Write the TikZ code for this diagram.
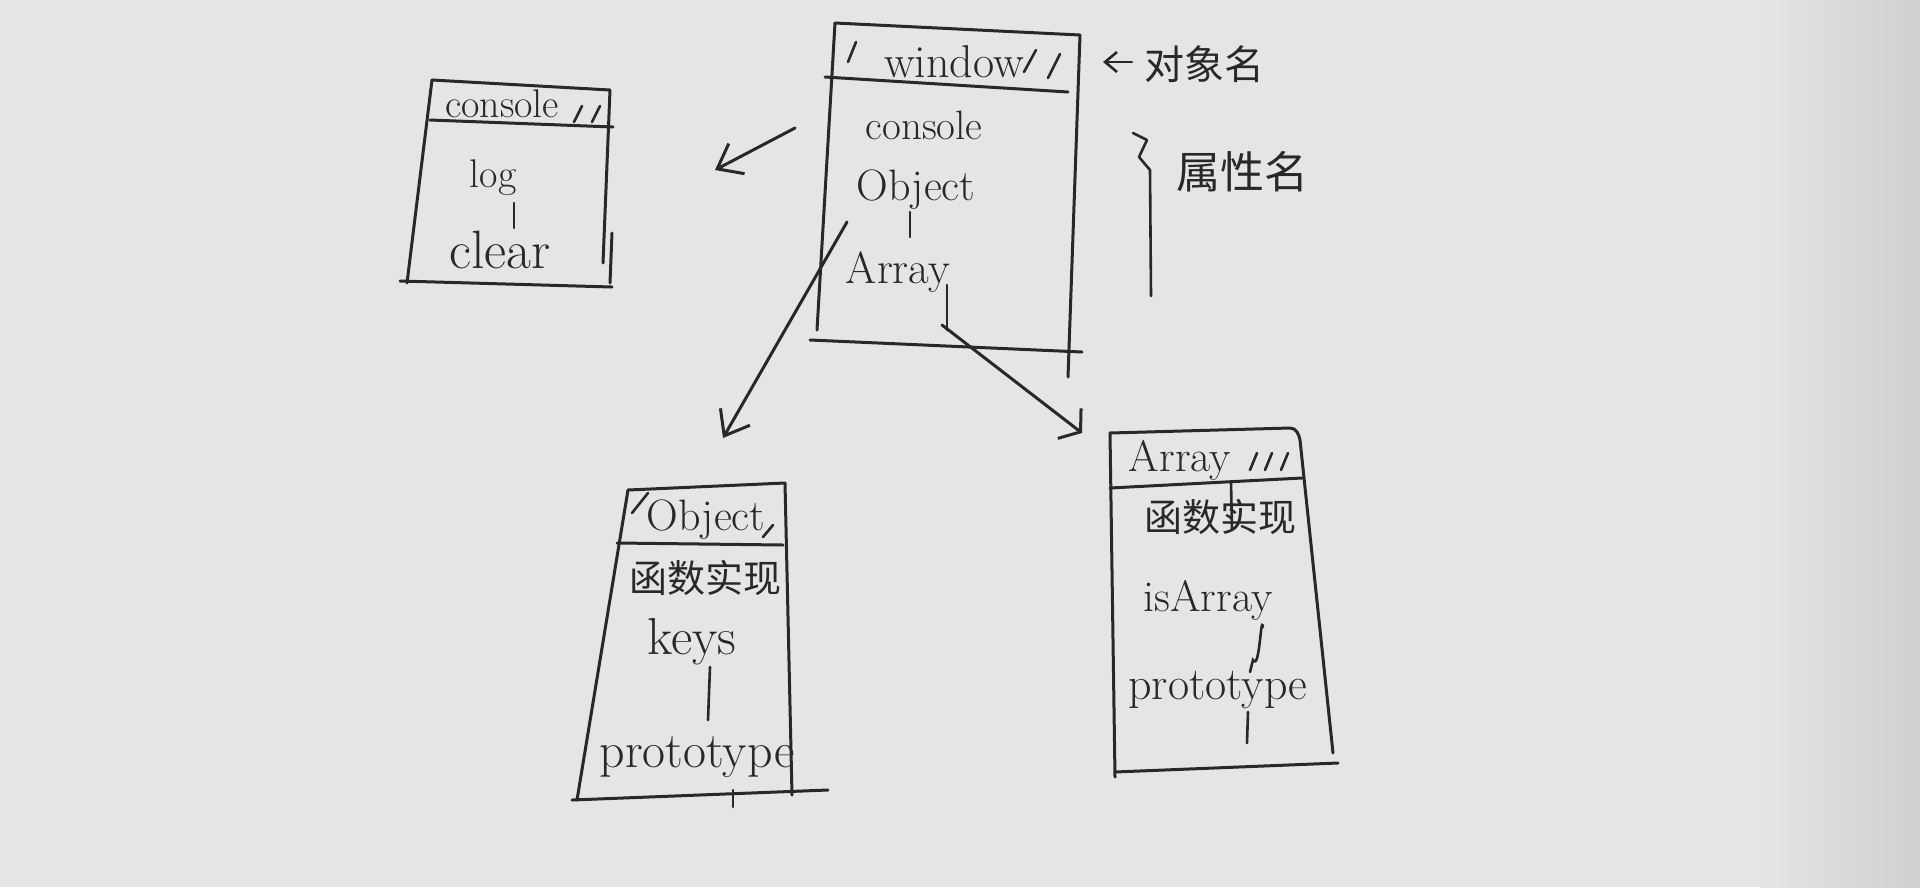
\documentclass[tikz,border=0pt]{standalone}
\usepackage{fontspec}
\newfontfamily\cjk{Noto Sans CJK SC}
\usetikzlibrary{arrows.meta}
\definecolor{paper}{RGB}{229,229,227}
\definecolor{paperdark}{RGB}{208,208,206}
\definecolor{ink}{RGB}{40,40,40}
\begin{document}
\begin{tikzpicture}[x=1pt,y=-1pt,
  frame/.style={draw=ink,line width=3pt,line cap=round,line join=round},
  hatch/.style={draw=ink,line width=2.6pt,line cap=round},
  lbl/.style={text=ink,inner sep=0pt,font=\fontsize{#1}{#1}\selectfont},
  lbl/.default=44,
  zh/.style={text=ink,inner sep=0pt,font=\cjk\fontsize{#1}{#1}\selectfont},
  zh/.default=38,
  arr/.style={draw=ink,line width=3pt,line cap=round,-{Straight Barb[length=22pt,width=34pt,line width=3pt]}}]
\useasboundingbox (0,0) rectangle (1920,887);
\fill[paper] (0,0) rectangle (1920,887);
\shade[left color=paper,right color=paperdark] (1760,0) rectangle (1920,887);

% ---------- window box ----------
\draw[frame] (835,23) -- (1080,35) -- (1068,377);
\draw[frame] (835,23) -- (817,330);
\draw[frame] (825,77) -- (1068,92);
\draw[frame] (810,340) -- (1082,352);
\draw[hatch] (856,42) -- (848,62);
\draw[hatch] (1036,50) -- (1024,72);
\draw[hatch] (1060,54) -- (1048,78);
\draw[hatch] (910,212) -- (910,237);
\draw[hatch] (947,285) -- (947,330);
\node[lbl=46] (wtitle) at (954,62) {window};
\node[lbl=41] (wconsole) at (924,125) {console};
\node[lbl=44] (wobject) at (916,190) {Object};
\node[lbl=45] (warray) at (898,272) {Array};

% ---------- console box ----------
\draw[frame] (432,80) -- (610,90) -- (603,263);
\draw[frame] (612,233) -- (610,283);
\draw[frame] (432,80) -- (407,283);
\draw[frame] (430,120) -- (613,127);
\draw[frame] (400,281) -- (612,287);
\draw[hatch] (582,106) -- (574,122);
\draw[hatch] (600,106) -- (592,122);
\draw[hatch] (514,203) -- (514,228);
\node[lbl=40] (ctitle) at (502,104) {console};
\node[lbl=40] (clog) at (493,178) {log};
\node[lbl=54] (cclear) at (500,250) {clear};

% ---------- Object box ----------
\draw[frame] (628,490) -- (785,483) -- (792,795);
\draw[frame] (628,490) -- (577,800);
\draw[frame] (617,543) -- (783,545);
\draw[frame] (572,800) -- (828,790);
\draw[hatch] (648,493) -- (632,513);
\draw[hatch] (773,525) -- (763,537);
\draw[hatch] (710,667) -- (708,720);
\draw[hatch] (733,790) -- (733,807);
\node[lbl=44] (otitle) at (706,520) {Object};
\node[zh=38] (oimpl) at (705,578) {函数实现};
\node[lbl=52] (okeys) at (692,642) {keys};
\node[lbl=50] (oproto) at (697,757) {prototype};

% ---------- Array box ----------
\draw[frame] (1110,433) -- (1290,428) to[out=0,in=100] (1300,440) -- (1333,753);
\draw[frame] (1110,433) -- (1115,777);
\draw[frame] (1110,488) -- (1302,478);
\draw[frame] (1115,772) -- (1338,763);
\draw[hatch] (1257,453) -- (1250,470);
\draw[hatch] (1272,453) -- (1265,470);
\draw[hatch] (1288,453) -- (1281,470);
\draw[hatch] (1231,482) -- (1232,530);
\draw[hatch] (1263,627) to[out=100,in=-60] (1253,660) -- (1250,672);
\draw[hatch] (1248,712) -- (1247,743);
\node[lbl=44] (atitle) at (1180,460) {Array};
\node[zh=38] (aimpl) at (1220,517) {函数实现};
\node[lbl=44] (aisarr) at (1208,600) {isArray};
\node[lbl=46] (aproto) at (1218,690) {prototype};

% ---------- connectors ----------
\coordinate (c1s) at (795,128);
\coordinate (c1e) at (715,170);
\coordinate (c2s) at (847,222);
\coordinate (c2e) at (723,438);
\coordinate (c3s) at (942,325);
\coordinate (c3e) at (1082,433);
\draw[arr] (c1s) -- (c1e);
\draw[arr] (c2s) -- (c2e);
\draw[draw=ink,line width=3pt,line cap=round,-{Straight Barb[length=14pt,width=38pt,line width=3pt]}] (c3s) -- (c3e);

% ---------- annotations ----------
\coordinate (n1s) at (1132,62);
\coordinate (n1e) at (1103,62);
\draw[draw=ink,line width=2.6pt,line cap=round,-{Straight Barb[length=12pt,width=20pt,line width=2.6pt]}] (n1s) -- (n1e);
\node[zh=40] (objname) at (1204,64) {对象名};
\draw[frame,line width=2.6pt] (1133,133) -- (1147,140) -- (1139,157) -- (1150,170) -- (1151,296);
\node[zh=44] (propname) at (1242,172) {属性名};
\end{tikzpicture}
\end{document}
